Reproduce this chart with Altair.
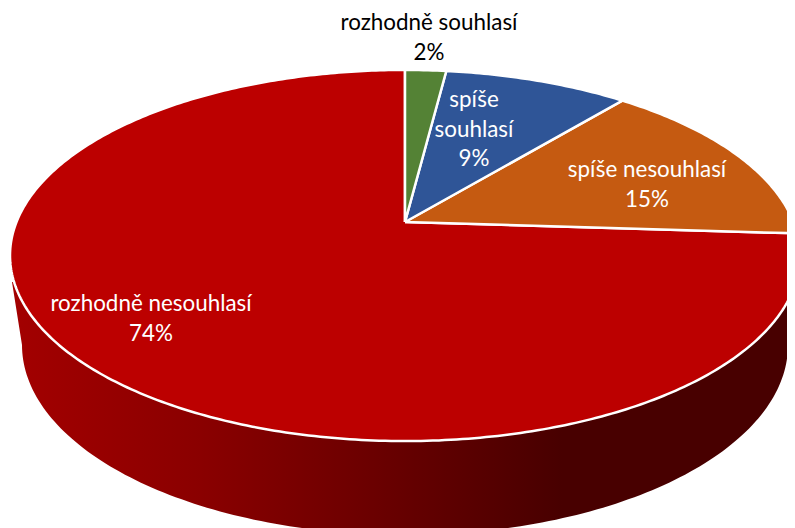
import numpy as np
import pandas as pd
import altair as alt

categories = ["rozhodně souhlasí", "spíše souhlasí", "spíše nesouhlasí", "rozhodně nesouhlasí"]
shares = [2, 9, 15, 74]
colors = ["#548235", "#2F5597", "#C55A11", "#BC0000"]
label_lines = [["rozhodně souhlasí", "2%"], ["spíše", "souhlasí", "9%"],
               ["spíše nesouhlasí", "15%"], ["rozhodně nesouhlasí", "74%"]]
label_colors = ["#000000", "#FFFFFF", "#FFFFFF", "#FFFFFF"]
label_anchor = [(429, 23), (474, 100), (647, 170), (151, 304)]
line_step = 29.5

# Perspective view of the pie's top face
CX, CY, K, A, B = 405.0, 222.0, 0.1806, 388.5, 179.5

def rim(theta):
    u, v = np.sin(theta), np.cos(theta)
    d = 1 + K * v
    return CX + A * u / d, CY - B * v / d

x_scale = alt.Scale(domain=[8, 787], range=[0, 779], nice=False, zero=False)
y_scale = alt.Scale(domain=[8, 528], range=[0, 520], nice=False, zero=False)
X = alt.X("x:Q", scale=x_scale, axis=None)
Y = alt.Y("y:Q", scale=y_scale, axis=None)

# Side wall
t = np.linspace(np.pi, 0, 160)
wx = 405 + 383 * np.cos(t)
wy = 345 + 190 * np.sin(t)
wall_x = np.concatenate([[12], wx, [798, 12]])
wall_y = np.concatenate([[282], wy, [282, 282]])
wall = pd.DataFrame({"x": wall_x, "y": wall_y, "o": np.arange(len(wall_x))})
gradient = alt.LinearGradient(
    gradient="linear", x1=0, x2=1, y1=0, y2=0,
    stops=[alt.GradientStop(color="#A30000", offset=0),
           alt.GradientStop(color="#8A0000", offset=0.24),
           alt.GradientStop(color="#650000", offset=0.5),
           alt.GradientStop(color="#480000", offset=0.7),
           alt.GradientStop(color="#480000", offset=1)])
layers = [alt.Chart(wall).mark_line(fill=gradient, stroke=None, clip=True).encode(x=X, y=Y, order="o:Q")]

# Top slices
cum = np.cumsum([0] + shares) / sum(shares) * 2 * np.pi
for i in [3, 2, 1, 0]:
    th = np.linspace(cum[i], cum[i + 1], max(4, int(shares[i] * 5)))
    px, py = rim(th)
    xs = np.concatenate([[CX], px, [CX]])
    ys = np.concatenate([[CY], py, [CY]])
    df = pd.DataFrame({"x": xs, "y": ys, "o": np.arange(len(xs))})
    layers.append(alt.Chart(df).mark_line(fill=colors[i], stroke="#FFFFFF", strokeWidth=2.5,
                                          strokeJoin="miter", clip=True)
                  .encode(x=X, y=Y, order="o:Q"))

# Labels
rows = []
for lines, col, (ax, ay) in zip(label_lines, label_colors, label_anchor):
    for j, s in enumerate(lines):
        rows.append({"x": ax, "y": ay + j * line_step, "t": s, "c": col})
labels = alt.Chart(pd.DataFrame(rows)).mark_text(font="Lato", fontSize=22.4, baseline="middle", align="center").encode(
    x=X, y=Y, text="t:N", color=alt.Color("c:N", scale=None))
layers.append(labels)

chart = alt.layer(*layers).properties(
    width=779, height=520, padding=0,
    autosize=alt.AutoSizeParams(type="none", contains="content"),
).configure_view(stroke=None).configure_axis(grid=False)
chart.save("out.html", embed_options={"renderer": "svg", "actions": False})
